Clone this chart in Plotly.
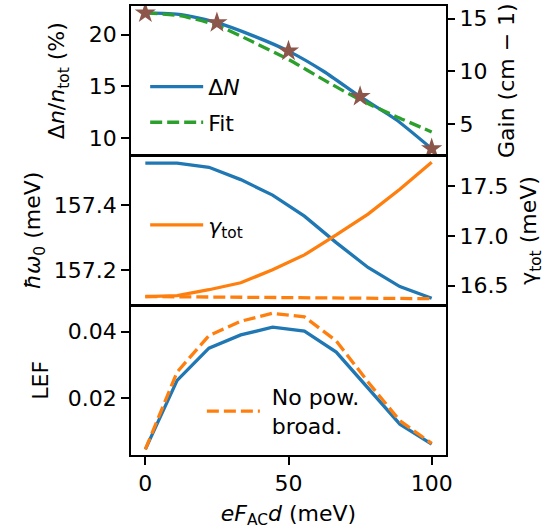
import plotly.graph_objects as go

# ---------------- data ----------------
x_top = [0, 12.5, 25, 37.5, 50, 62.5, 75, 87.5, 100]
delta_n = [22.09, 21.93, 21.15, 19.9, 18.4, 16.41, 14.0, 11.8, 8.98]
fit_vals = [22.1, 21.8, 20.9, 19.3, 17.6, 15.6, 13.7, 12.1, 10.6]

x_gain = [0, 25, 50, 75, 100]
gain = [15.54, 14.62, 11.93, 7.62, 2.68]

x_grid = [0, 11.11, 22.22, 33.33, 44.44, 55.56, 66.67, 77.78, 88.89, 100]
hbar_omega0 = [157.531, 157.531, 157.518, 157.480, 157.432, 157.367, 157.285, 157.208, 157.149, 157.113]
gamma_tot = [16.39, 16.40, 16.46, 16.53, 16.66, 16.81, 17.01, 17.22, 17.47, 17.74]
gamma_nopb = [16.392, 16.390, 16.389, 16.387, 16.385, 16.382, 16.379, 16.376, 16.373, 16.370]

lef = [0.0045, 0.0253, 0.0350, 0.0390, 0.0413, 0.0401, 0.0338, 0.0228, 0.0121, 0.0061]
lef_nopb = [0.0045, 0.0278, 0.0388, 0.0431, 0.0455, 0.0444, 0.0372, 0.0248, 0.0131, 0.0063]

x_ticks = [0, 50, 100]

# ---------------- style ----------------
BLUE = "#1f77b4"
ORANGE = "#ff7f0e"
GREEN = "#2ca02c"
BROWN = "#8c564b"
FONT = "DejaVu Sans"
FS = 22
LW = 3.3
DASH = "12px,5px"

fig = go.Figure()

# top panel
fig.add_trace(go.Scatter(x=x_top, y=delta_n, mode="lines", name="Δ<i>N</i>",
                         line=dict(color=BLUE, width=LW, shape="spline", smoothing=0.6),
                         xaxis="x", yaxis="y", legend="legend"))
fig.add_trace(go.Scatter(x=x_top, y=fit_vals, mode="lines", name="Fit",
                         line=dict(color=GREEN, width=LW, dash=DASH, shape="spline", smoothing=0.6),
                         xaxis="x", yaxis="y", legend="legend2"))
fig.add_trace(go.Scatter(x=x_gain, y=gain, mode="markers", showlegend=False,
                         marker=dict(symbol="star", size=16, color=BROWN, line=dict(width=0)),
                         xaxis="x", yaxis="y2"))

# middle panel
fig.add_trace(go.Scatter(x=x_grid, y=hbar_omega0, mode="lines", showlegend=False,
                         line=dict(color=BLUE, width=LW), xaxis="x2", yaxis="y3"))
fig.add_trace(go.Scatter(x=x_grid, y=gamma_tot, mode="lines", name="<i>γ</i><sub>tot</sub>",
                         line=dict(color=ORANGE, width=LW), xaxis="x2", yaxis="y4", legend="legend3"))
fig.add_trace(go.Scatter(x=x_grid, y=gamma_nopb, mode="lines", showlegend=False,
                         line=dict(color=ORANGE, width=LW, dash=DASH), xaxis="x2", yaxis="y4"))

# bottom panel
fig.add_trace(go.Scatter(x=x_grid, y=lef, mode="lines", showlegend=False,
                         line=dict(color=BLUE, width=LW), xaxis="x3", yaxis="y5"))
fig.add_trace(go.Scatter(x=x_grid, y=lef_nopb, mode="lines", name="\u00a0No pow.<br>\u00a0broad.",
                         line=dict(color=ORANGE, width=LW, dash=DASH), xaxis="x3", yaxis="y5",
                         legend="legend4"))

axis_common = dict(showline=True, linecolor="black", linewidth=1.8, showgrid=False, zeroline=False,
                   ticks="outside", ticklen=8, tickwidth=1.8, tickcolor="black",
                   tickfont=dict(family=FONT, size=FS, color="black"))

XR = [-5, 105]
D_TOP = [0.6674, 1.0]
D_MID = [0.3348, 0.6652]
D_BOT = [0.0, 0.3326]

def xax(anchor, show):
    d = dict(axis_common)
    d.update(domain=[0, 1], range=XR, anchor=anchor, mirror=True)
    if show:
        d.update(tickvals=x_ticks, ticktext=[str(v) for v in x_ticks],
                 title=dict(text="<i>eF</i><sub>AC</sub><i>d</i> (meV)", font=dict(family=FONT, size=FS, color="black"), standoff=10))
    else:
        d.update(ticks="", showticklabels=False)
    return d

def ytitle(t, standoff=8):
    return dict(text=t, font=dict(family=FONT, size=FS, color="black"), standoff=standoff)

layout = dict(
    width=552, height=530,
    margin=dict(l=131, r=106, t=4, b=75),
    paper_bgcolor="white", plot_bgcolor="white",
    font=dict(family=FONT, size=FS, color="black"),
    xaxis=xax("y", False),
    xaxis2=dict(xax("y3", False), matches="x"),
    xaxis3=dict(xax("y5", True), matches="x"),
    yaxis=dict(axis_common, domain=D_TOP, range=[8.34, 22.76], anchor="x", mirror=True,
               tickvals=[10, 15, 20], title=ytitle("Δ<i>n</i>/<i>n</i><sub>tot</sub> (%)", 18)),
    yaxis2=dict(axis_common, domain=D_TOP, range=[2.05, 16.2], anchor="x", overlaying="y", side="right",
                showline=False, tickvals=[5, 10, 15], title=ytitle("Gain (cm − 1)", 12)),
    yaxis3=dict(axis_common, domain=D_MID, range=[157.093, 157.552], anchor="x2", mirror=True,
                tickvals=[157.2, 157.4], ticktext=["157.2", "157.4"],
                title=ytitle("<i>ħω</i><sub>0</sub> (meV)", 7)),
    yaxis4=dict(axis_common, domain=D_MID, range=[16.31, 17.80], anchor="x2", overlaying="y3", side="right",
                showline=False, tickvals=[16.5, 17.0, 17.5], ticktext=["16.5", "17.0", "17.5"],
                title=ytitle("γ<sub>tot</sub> (meV)", 13)),
    yaxis5=dict(axis_common, domain=D_BOT, range=[0.0028, 0.0478], anchor="x3", mirror=True,
                tickvals=[0.02, 0.04], ticktext=["0.02", "0.04"], title=ytitle("LEF", 13)),
)

leg_common = dict(bgcolor="rgba(0,0,0,0)", borderwidth=0, xanchor="left", yanchor="middle",
                  itemwidth=53, font=dict(family=FONT, size=FS, color="black"))
layout["legend"] = dict(leg_common, x=0.045, y=0.820)
layout["legend2"] = dict(leg_common, x=0.045, y=0.7406)
layout["legend3"] = dict(leg_common, x=0.045, y=0.512)
layout["legend4"] = dict(leg_common, x=0.225, y=0.097)

fig.update_layout(**layout)
fig.write_html("out.html", config={"displayModeBar": False},
               post_script="document.body.style.margin='0px';")
